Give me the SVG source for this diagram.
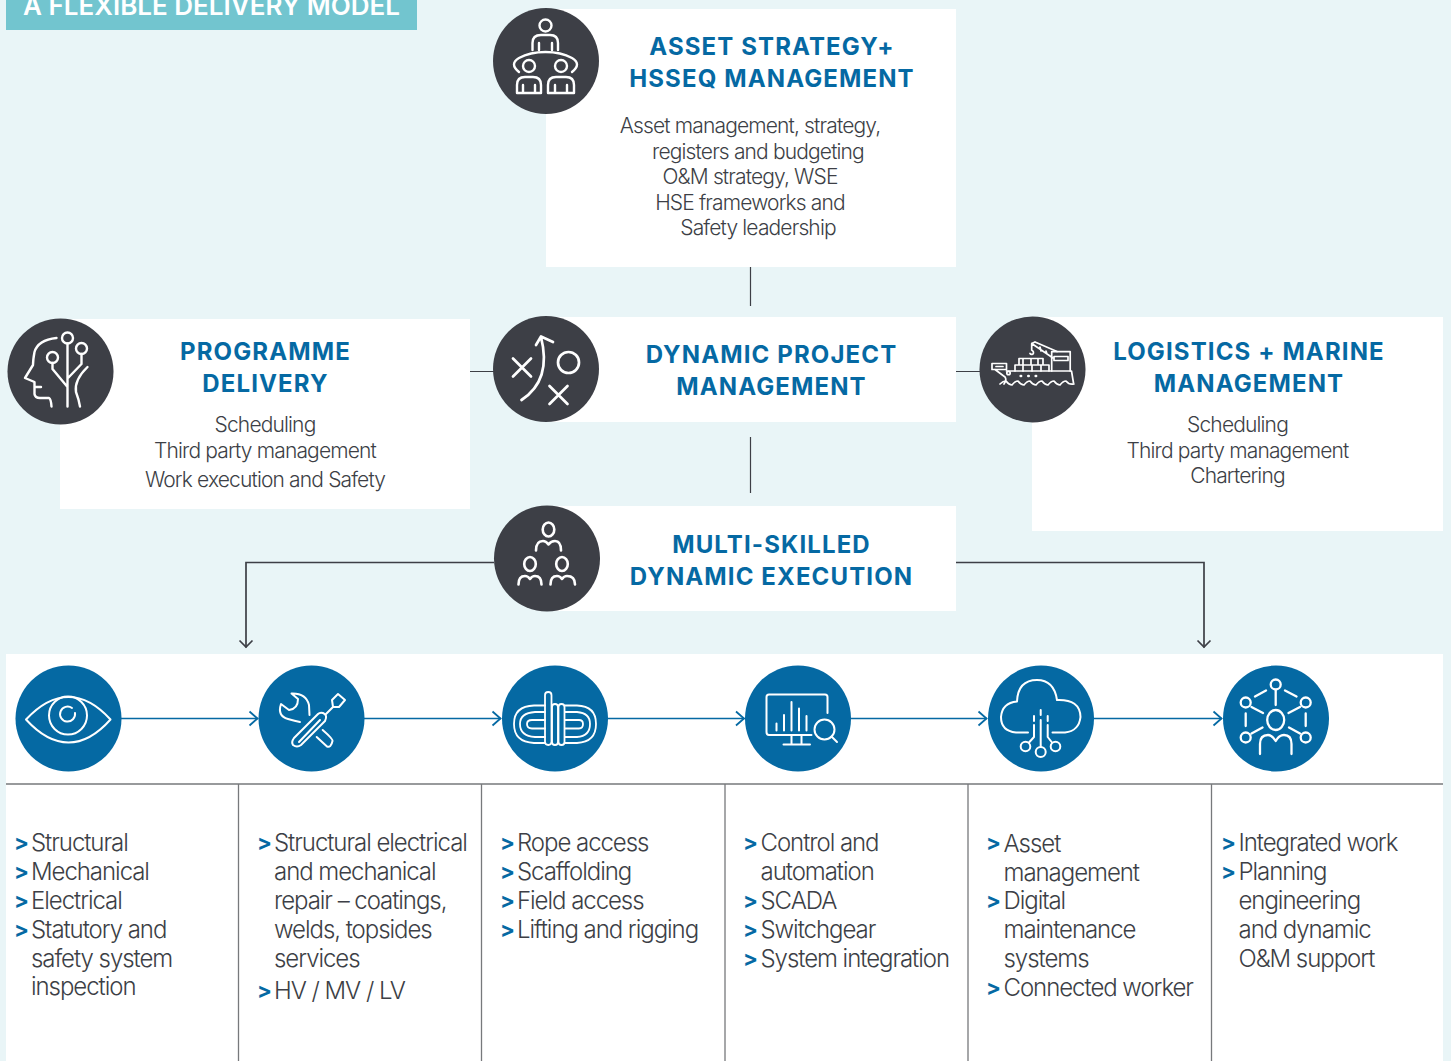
<svg xmlns="http://www.w3.org/2000/svg" width="1451" height="1061" viewBox="0 0 1451 1061">
<style>
.h{font:700 24px "Inter","Liberation Sans",sans-serif;fill:#0569a3;text-anchor:middle;letter-spacing:1.12px}
.b{font:300 21px "Inter","Liberation Sans",sans-serif;fill:#3d3f46;text-anchor:middle;letter-spacing:-.85px}
.l{font:300 24px "Inter","Liberation Sans",sans-serif;fill:#3d3f46;letter-spacing:-1.05px}
.g{font:700 22px "Inter","Liberation Sans",sans-serif;fill:#0569a3;transform:translateY(-1.5px)}
.i{fill:none;stroke:#fff;stroke-width:2.4;stroke-linecap:round;stroke-linejoin:round}
.d{fill:#3d3f46}.u{fill:#0569a3}
.c{fill:none;stroke:#3d3f46;stroke-width:1.2}
.e{fill:none;stroke:#3d3f46;stroke-width:1.7}
.a{fill:none;stroke:#0569a3;stroke-width:1.6}
.t{fill:none;stroke:#77797c;stroke-width:1.3}
</style>
<defs>
<marker id="ma" markerUnits="userSpaceOnUse" markerWidth="14" markerHeight="18" refX="11" refY="8" orient="auto" overflow="visible"><path d="M2.500,1 L10.500,8 L2.500,15" fill="none" stroke="#0569a3" stroke-width="1.800"/></marker>
<marker id="md" markerUnits="userSpaceOnUse" markerWidth="14" markerHeight="18" refX="11" refY="8" orient="auto" overflow="visible"><path d="M4,1.500 L10.500,8 L4,14.500" fill="none" stroke="#3d3f46" stroke-width="1.700"/></marker>
</defs>
<rect width="1451" height="1061" fill="#e9f5f7"/>
<g id="title"><rect x="6" y="-2" width="411" height="32" fill="#72c5cf"/><text x="211.500" y="15" text-anchor="middle" style="font:600 26px 'Inter','Liberation Sans',sans-serif;fill:#fff">A FLEXIBLE DELIVERY MODEL</text></g>
<g id="panel">
<rect x="6" y="654" width="1437" height="407" fill="#fff"/>
<path class="t" d="M6,784H1443M238.500,784V1061M481.500,784V1061M725,784V1061M968,784V1061M1211.500,784V1061"/>
</g>
<g id="connectors">
<path class="c" d="M750.500,267V306M750.500,437V493M470,371.500H494M956,371.500H980"/>
<path class="e" d="M494,562.500H246V647.500" marker-end="url(#md)"/>
<path class="e" d="M956,562.500H1204V647.500" marker-end="url(#md)"/>
<path class="a" d="M121,718.500H258" marker-end="url(#ma)"/>
<path class="a" d="M364,718.500H501" marker-end="url(#ma)"/>
<path class="a" d="M607,718.500H744.500" marker-end="url(#ma)"/>
<path class="a" d="M851,718.500H987" marker-end="url(#ma)"/>
<path class="a" d="M1093,718.500H1222" marker-end="url(#ma)"/>
</g>
<g id="asset-strategy">
<rect x="546" y="9" width="410" height="258" fill="#fff"/>
<circle class="d" cx="546" cy="61" r="53"/>
<g class="i"><circle cx="545.500" cy="25.500" r="6"/><path d="M532.500,50V43Q532.500,35 541,35H550Q558,35 558,43V50M539,43V50M552,43V50"/><path d="M519,72Q509,64 519,58Q530,52 545.500,52Q561,52 572,58Q582,64 572,72"/><circle cx="529" cy="66" r="6"/><circle cx="561" cy="66" r="6"/><path d="M517,93V85Q517,77 525,77H533Q541,77 541,85V93ZM548,93V85Q548,77 556,77H566Q574,77 574,85V93ZM523,85V93M535,85V93M555,85V93M567,85V93"/></g>
<text class="h" x="772" y="55">ASSET STRATEGY+</text><text class="h" x="772" y="87">HSSEQ MANAGEMENT</text>
<text class="b" x="750" y="133">Asset management, strategy,</text><text class="b" x="758" y="159">registers and budgeting</text><text class="b" x="750" y="184">O&amp;M strategy, WSE</text><text class="b" x="750" y="210">HSE frameworks and</text><text class="b" x="758" y="235">Safety leadership</text>
</g>
<g id="programme-delivery">
<rect x="60" y="319" width="410" height="190" fill="#fff"/>
<circle class="d" cx="60.500" cy="371.500" r="53"/>
<g class="i"><circle cx="67.500" cy="338" r="5.500"/><circle cx="52.500" cy="357.500" r="5.500"/><circle cx="81.500" cy="348.500" r="5.500"/><path d="M67.500,343.500V406.500M52.500,363V369L67.500,387M81.500,354V364L68,378M87.500,367Q74,380 76,392Q79,400 80,406.500"/><path d="M56.500,338Q38,340 34.500,352Q33,360 33,365L25,378L34.500,382V394Q35,398 40,398H49Q51,399 51.500,406.500M35,387H41"/></g>
<text class="h" x="265.500" y="360">PROGRAMME</text><text class="h" x="265.500" y="392">DELIVERY</text>
<text class="b" x="265" y="432">Scheduling</text><text class="b" x="265" y="458">Third party management</text><text class="b" x="265" y="487">Work execution and Safety</text>
</g>
<g id="dynamic-project">
<rect x="546" y="317" width="410" height="105" fill="#fff"/>
<circle class="d" cx="546" cy="369" r="53"/>
<g class="i" style="stroke-width:2.700"><path d="M513,358.500L531,376.500M531,358.500L513,376.500M549.500,386L567.500,404M567.500,386L549.500,404"/><circle cx="568.500" cy="362.500" r="10.500"/><path d="M521.500,400Q552,380 541,337M536,345L541,336.500L553,342"/></g>
<text class="h" x="771.500" y="363">DYNAMIC PROJECT</text><text class="h" x="771.500" y="395">MANAGEMENT</text>
</g>
<g id="logistics-marine">
<rect x="1032" y="317" width="411" height="214" fill="#fff"/>
<circle class="d" cx="1032.500" cy="369.500" r="53"/>
<g class="i" style="stroke-width:1.700"><path d="M992,363.500H1006.500V369.500H992ZM995,369.500L1005,377Q1007,380 1004,384M1006.500,371H1071.500L1073.500,383"/><path d="M996,366.500H1003"/><path d="M1015,371V365H1049V371M1019,365V358.500H1043V365M1023,358.500V365M1031,358.500V365M1038,358.500V365M1023,365V371M1032,365V371M1041,365V371"/><path d="M1031.700,343.500L1053,358M1035,342L1057,351.500M1031.700,343.500L1035,342M1040,347L1041,351M1046,351L1047,354M1031.700,343.500V350Q1034.500,352 1033,354Q1031,355 1030,353.500"/><path d="M1051.700,351.700H1070.200V371M1051.700,351.700V371M1054,356.500H1068V360.500H1054Z"/><circle cx="1008.500" cy="373" r="1.700"/><path d="M1020.700,376h.4M1028.300,376h.4M1035.700,376h.4" style="stroke-width:2.600"/><path d="M1000,384Q1003,381 1006,381Q1009,385 1012,385Q1015,381 1018,381Q1021,385 1024,385Q1027,381 1030,381Q1033,385 1036,385Q1039,381 1042,381Q1045,385 1048,385Q1051,381 1054,381Q1057,385 1060,385Q1063,381 1066,381Q1069,385 1074,384"/></g>
<text class="h" x="1249" y="360">LOGISTICS + MARINE</text><text class="h" x="1249" y="392">MANAGEMENT</text>
<text class="b" x="1237.500" y="432">Scheduling</text><text class="b" x="1237.500" y="458">Third party management</text><text class="b" x="1237.500" y="483">Chartering</text>
</g>
<g id="multi-skilled">
<rect x="546" y="506" width="410" height="105" fill="#fff"/>
<circle class="d" cx="547" cy="558.500" r="53"/>
<g class="i" style="stroke-width:2.600"><ellipse cx="548.500" cy="529.500" rx="5.800" ry="7"/><path d="M536,550.500Q536,541 543,541Q546,541 548.500,544.500Q551,541 555,541Q561,541 561,550.500"/><ellipse cx="530" cy="564" rx="5.800" ry="7"/><ellipse cx="562" cy="564" rx="5.800" ry="7"/><path d="M518.500,584.500Q518.500,576 525,576Q528,576 530,579Q532,576 535,576Q541.500,576 541.500,584.500M550.500,584.500Q550.500,576 557,576Q560,576 562,579Q564,576 567,576Q575,576 575,584.500"/></g>
<text class="h" x="771.500" y="553">MULTI-SKILLED</text><text class="h" x="771.500" y="585">DYNAMIC EXECUTION</text>
</g>
<g id="inspection">
<circle class="u" cx="68.500" cy="718.500" r="53"/>
<g class="i" style="stroke-width:2"><path d="M26,719.500Q47,697 68.500,697Q90,697 110.500,719.500Q90,742.500 68.500,742.500Q47,742.500 26,719.500Z"/><circle cx="68" cy="715.500" r="19"/><path d="M72,708A7.500,7.500 0 1 0 75,713"/></g>
<text class="g" x="14" y="851">&gt;</text><text class="l" x="31" y="851">Structural</text><text class="g" x="14" y="880">&gt;</text><text class="l" x="31" y="880">Mechanical</text><text class="g" x="14" y="909">&gt;</text><text class="l" x="31" y="909">Electrical</text><text class="g" x="14" y="938">&gt;</text><text class="l" x="31" y="938">Statutory and</text><text class="l" x="31" y="967">safety system</text><text class="l" x="31" y="995">inspection</text>
</g>
<g id="repair">
<circle class="u" cx="311.500" cy="718.500" r="53"/>
<g class="i" style="stroke-width:2"><path d="M291.500,693.500Q306,693 309,705L309.500,715M291.500,693.500L298,699Q298,709 289,710L281,704Q277,716 288,719Q295,721 300,722"/><path d="M316.700,737L327,746.500Q331,748 332.500,741Q333,739 322.700,730"/><path d="M293,745Q297,748 301,745L325,721Q328,715 323,713Q320,712 318,714L294,738Q291,742 293,745ZM299,742L320,720"/><path d="M326,714L333,707M333,707L332,700L338,694L345,700L339,707Z"/></g>
<text class="g" x="257" y="851">&gt;</text><text class="l" x="274" y="851">Structural electrical</text><text class="l" x="274" y="880">and mechanical</text><text class="l" x="274" y="909">repair – coatings,</text><text class="l" x="274" y="938">welds, topsides</text><text class="l" x="274" y="967">services</text><text class="g" x="257" y="999">&gt;</text><text class="l" x="274" y="999">HV / MV / LV</text>
</g>
<g id="access">
<circle class="u" cx="555" cy="718.500" r="53"/>
<g class="i" style="stroke-width:1.800"><path d="M545,705.500H534Q514,706 514,724Q514,742 534,743H545M565,705.500H577Q596,706 596,724Q596,742 577,743H565M545,712H535Q520,713 520,724Q520,736 535,737H545M565,712H577Q590,713 590,724Q590,736 577,737H565M545,720H532Q527,720 527,724Q527,728.500 532,728.500H545M565,720H579Q583,720 583,724Q583,728.500 579,728.500H565"/><rect x="545" y="692" width="6.500" height="53" rx="3.200"/><rect x="552" y="704" width="6" height="41" rx="3"/><rect x="558.500" y="704" width="6" height="41" rx="3"/></g>
<text class="g" x="500" y="851">&gt;</text><text class="l" x="517" y="851">Rope access</text><text class="g" x="500" y="880">&gt;</text><text class="l" x="517" y="880">Scaffolding</text><text class="g" x="500" y="909">&gt;</text><text class="l" x="517" y="909">Field access</text><text class="g" x="500" y="938">&gt;</text><text class="l" x="517" y="938">Lifting and rigging</text>
</g>
<g id="control">
<circle class="u" cx="798" cy="718.500" r="53"/>
<g class="i" style="stroke-width:2"><path d="M811.500,735H769Q766.500,735 766.500,732V697Q766.500,694.500 769,694.500H825Q827.500,694.500 827.500,697V713"/><path d="M776.500,730.500V723.500M784,730.500V715M791.500,730.500V702M799,730.500V708.500M806.500,730.500V716M791.500,735V744M801.500,735V744M783.500,744.500H810"/><circle cx="824.500" cy="729.500" r="10"/><path d="M831.500,736.500L837,742"/></g>
<text class="g" x="743" y="851">&gt;</text><text class="l" x="760.500" y="851">Control and</text><text class="l" x="760.500" y="880">automation</text><text class="g" x="743" y="909">&gt;</text><text class="l" x="760.500" y="909">SCADA</text><text class="g" x="743" y="938">&gt;</text><text class="l" x="760.500" y="938">Switchgear</text><text class="g" x="743" y="967">&gt;</text><text class="l" x="760.500" y="967">System integration</text>
</g>
<g id="digital">
<circle class="u" cx="1041" cy="718.500" r="53"/>
<g class="i" style="stroke-width:2"><path d="M1028,732.500H1016Q1001,731 1001,717Q1002,703 1017,701.500Q1018,680 1037,680Q1054,680 1057,700Q1080,699 1080.500,717Q1079,731 1065,732.500H1052.500"/><path d="M1040.700,710V715M1040.700,720V747M1034,716V721M1034,725V737L1029,742.500M1047.700,716V721M1047.700,725V737L1052,742.500"/><circle cx="1040.700" cy="752" r="5"/><circle cx="1025.500" cy="746.500" r="4.800"/><circle cx="1055.500" cy="746.500" r="4.800"/></g>
<text class="g" x="986" y="851">&gt;</text><text class="l" x="1003.500" y="852">Asset</text><text class="l" x="1003.500" y="881">management</text><text class="g" x="986" y="909">&gt;</text><text class="l" x="1003.500" y="909">Digital</text><text class="l" x="1003.500" y="938">maintenance</text><text class="l" x="1003.500" y="967">systems</text><text class="g" x="986" y="996">&gt;</text><text class="l" x="1003.500" y="996">Connected worker</text>
</g>
<g id="integrated">
<circle class="u" cx="1276" cy="718.500" r="53"/>
<g class="i" style="stroke-width:2.300"><circle cx="1275.700" cy="684.500" r="5"/><circle cx="1245.700" cy="702.500" r="5"/><circle cx="1305.700" cy="702.500" r="5"/><circle cx="1245.700" cy="737.500" r="5"/><circle cx="1305.700" cy="737.500" r="5"/><path d="M1275.700,690V705M1255,696.500L1266,690.500M1285,690.500L1296.500,696.500M1251.500,707L1263,713M1300,707L1288.500,713M1245.700,713.500V726M1305.700,713.500V726M1251.500,733.500L1262.500,727.500M1300,733.500L1289,727.500"/><ellipse cx="1275.700" cy="720" rx="8.500" ry="10"/><path d="M1260,754V744Q1260,735 1268,735Q1272,735 1275.700,741Q1279,735 1284,735Q1291.500,735 1291.500,744V754"/></g>
<text class="g" x="1221" y="851">&gt;</text><text class="l" x="1238.500" y="851">Integrated work</text><text class="g" x="1221" y="880">&gt;</text><text class="l" x="1238.500" y="880">Planning</text><text class="l" x="1238.500" y="909">engineering</text><text class="l" x="1238.500" y="938">and dynamic</text><text class="l" x="1238.500" y="967">O&amp;M support</text>
</g>
</svg>
